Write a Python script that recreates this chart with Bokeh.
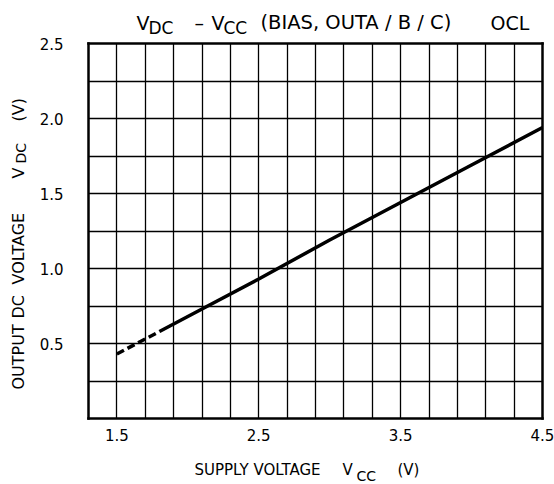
from math import pi
from bokeh.plotting import figure
from bokeh.models import (Label, FixedTicker, PrintfTickFormatter, Range1d,
                          LinearAxis, Grid)
from bokeh.embed import file_html
from bokeh.resources import INLINE

# ---- data ----
x_dashed = [1.5, 1.8]
y_dashed = [0.43, 0.58]
x_solid = [1.8, 2.0, 2.5, 3.0, 3.5, 4.0, 4.5]
y_solid = [0.58, 0.68, 0.93, 1.19, 1.44, 1.69, 1.94]

x_ticks = [1.5, 2.5, 3.5, 4.5]
y_ticks = [0.5, 1.0, 1.5, 2.0, 2.5]
x_grid = [1.5, 1.7, 1.9, 2.1, 2.3, 2.5, 2.7, 2.9, 3.1, 3.3, 3.5, 3.7, 3.9, 4.1, 4.3]
y_grid = [0.25, 0.5, 0.75, 1.0, 1.25, 1.5, 1.75, 2.0, 2.25]

XMIN, XMAX = 1.3, 4.5
YMIN, YMAX = 0.0, 2.5

FONT = "DejaVu Sans"

# plot box position on the page (px)
FL, FR, FT, FB = 88, 542, 43, 418
W, H = 554, 484


def dx(px):
    return XMIN + (px - FL) * (XMAX - XMIN) / (FR - FL)


def dy(py):
    return YMIN + (FB - py) * (YMAX - YMIN) / (FB - FT)


p = figure(width=W, height=H, output_backend="svg", toolbar_location=None,
           x_range=Range1d(dx(0), dx(W)), y_range=Range1d(dy(H), dy(0)),
           x_axis_location=None, y_axis_location=None,
           min_border=0, min_border_left=0, min_border_right=0,
           min_border_top=0, min_border_bottom=0)
p.background_fill_color = "white"
p.border_fill_color = "white"
p.outline_line_color = None
p.grid.visible = False


def make_axis(side, loc, bounds, ticks, show_labels):
    ax = LinearAxis(fixed_location=loc, bounds=bounds,
                    ticker=FixedTicker(ticks=ticks))
    ax.axis_line_color = "black"
    ax.axis_line_width = 2.5
    ax.axis_line_cap = "square"
    ax.major_tick_line_color = None
    ax.minor_tick_line_color = None
    ax.major_tick_in = 0
    ax.major_tick_out = 0
    ax.formatter = PrintfTickFormatter(format="%.1f")
    ax.major_label_text_font = FONT
    ax.major_label_text_font_size = "15px"
    ax.major_label_text_color = "black"
    if not show_labels:
        ax.major_label_text_alpha = 0
    p.add_layout(ax, side)
    return ax


xax = make_axis("below", YMIN, (XMIN, XMAX), x_ticks, True)
xax.major_label_standoff = 10
yax = make_axis("left", XMIN, (YMIN, YMAX), y_ticks, True)
yax.major_label_standoff = 25
make_axis("above", YMAX, (XMIN, XMAX), [], False)
make_axis("right", XMAX, (YMIN, YMAX), [], False)

# grid inside the plot box
xg = Grid(dimension=0, ticker=FixedTicker(ticks=x_grid), bounds=(XMIN, XMAX))
yg = Grid(dimension=1, ticker=FixedTicker(ticks=y_grid), bounds=(YMIN, YMAX))
xg.cross_bounds = (YMIN, YMAX)
yg.cross_bounds = (XMIN, XMAX)
for g in (xg, yg):
    g.grid_line_color = "black"
    g.grid_line_width = 1.3
    g.grid_line_alpha = 1.0
    p.add_layout(g)

p.line(x_dashed, y_dashed, line_color="black", line_width=3.5, line_dash="8 4")
p.line(x_solid, y_solid, line_color="black", line_width=3.5)


def txt(text, px, py, size, angle=0.0):
    p.add_layout(Label(x=dx(px), y=dy(py), text=text, text_font=FONT,
                       text_font_size=size, text_color="black",
                       text_align="left", text_baseline="middle",
                       angle=angle))


# title (anchor = left edge, vertical centre of capitals)
txt("V", 136, 22, "19px")
txt("DC", 148, 27, "17px")
txt("\u2013", 194, 22, "19px")
txt("V", 211, 22, "19px")
txt("CC", 223, 27, "17px")
txt("(BIAS, OUTA / B / C)", 260, 22, "19.5px")
txt("OCL", 490, 22, "19px")

# x axis label
txt("SUPPLY VOLTAGE", 194, 469, "15px")
txt("V", 342, 469, "15px")
txt("CC", 356, 475, "14px")
txt("(V)", 397, 469, "15px")

# y axis label (rotated, reading upwards)
txt("OUTPUT", 17.5, 389, "16px", pi / 2)
txt("DC", 17.5, 318, "16px", pi / 2)
txt("VOLTAGE", 17.5, 284, "16px", pi / 2)
txt("V", 17.5, 178, "16px", pi / 2)
txt("DC", 20.5, 163, "14px", pi / 2)
txt("(V)", 17.5, 121, "16px", pi / 2)

open("out.html", "w").write(file_html(p, INLINE))
